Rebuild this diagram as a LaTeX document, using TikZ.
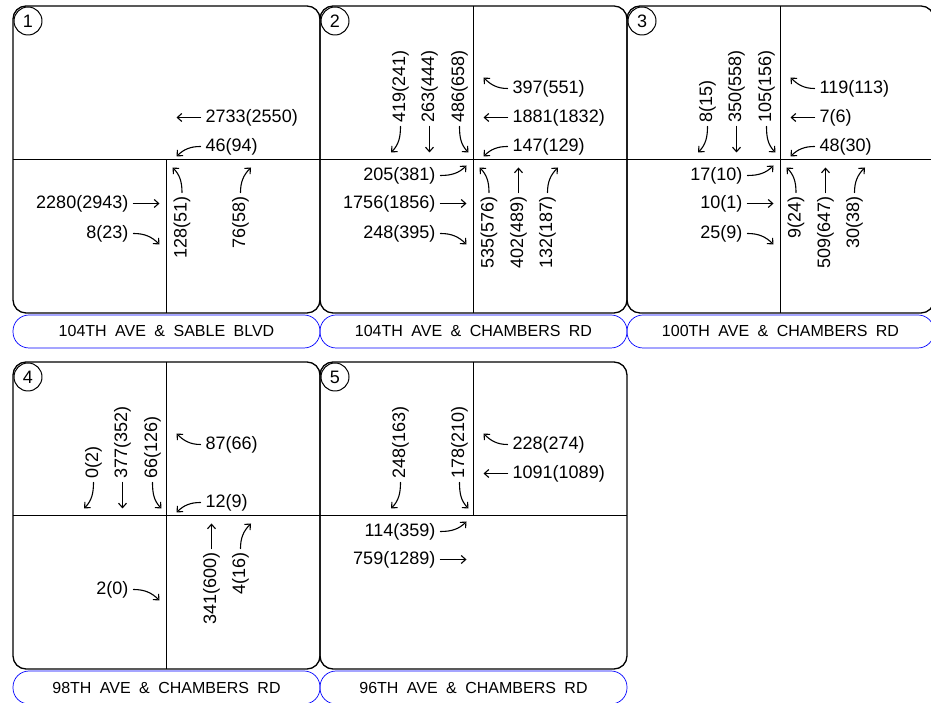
\documentclass[tikz,border=0pt]{standalone}
\usepackage{fontspec}
\setmainfont{Liberation Sans}
\newfontfamily\streetfont[WordSpace=1.9]{Liberation Sans}
\usetikzlibrary{arrows.meta,positioning}

\begin{document}
\begin{tikzpicture}[
    x=1pt, y=1pt,
    line cap=round,
    line join=round,
    panel/.style={draw, line width=1.3pt, rounded corners=13pt, minimum width=307pt, minimum height=307pt, outer sep=0pt, inner sep=0pt},
    street/.style={line width=1.3pt, line cap=butt},
    namebox/.style={draw=blue, line width=0.7pt, rounded corners=16pt, minimum width=307pt, minimum height=33pt, outer sep=0pt, inner sep=0pt, font=\streetfont\fontsize{16}{16}\selectfont},
    num/.style={circle, draw, fill=white, line width=1pt, minimum size=28pt, inner sep=0pt, font=\fontsize{18}{18}\selectfont},
    vol/.style={inner sep=0pt, font=\fontsize{18}{18}\selectfont},
    volup/.style={vol, rotate=90},
    mv/.style={-{Straight Barb[length=4.5pt,width=8pt]}, line width=1.1pt}
]

\useasboundingbox (0,0) rectangle (931,703);

% ------------------------
% Panels, street names and numbers
% ------------------------
\node[panel] (p1) at (166.5,543.5) {};
\node[panel, right=0pt of p1] (p2) {};
\node[panel, right=0pt of p2] (p3) {};
\node[panel, below=49pt of p1] (p4) {};
\node[panel, right=0pt of p4] (p5) {};

\node[namebox, below=2pt of p1] (n1) {104TH AVE \& SABLE BLVD};
\node[namebox, below=2pt of p2] (n2) {104TH AVE \& CHAMBERS RD};
\node[namebox, below=2pt of p3] (n3) {100TH AVE \& CHAMBERS RD};
\node[namebox, below=2pt of p4] (n4) {98TH AVE \& CHAMBERS RD};
\node[namebox, below=2pt of p5] (n5) {96TH AVE \& CHAMBERS RD};

% street lines
\draw[street] (p1.west) -- (p1.east);
\draw[street] (p1.center) -- (p1.south);
\draw[street] (p2.west) -- (p2.east);
\draw[street] (p2.north) -- (p2.south);
\draw[street] (p3.west) -- (p3.east);
\draw[street] (p3.north) -- (p3.south);
\draw[street] (p4.west) -- (p4.east);
\draw[street] (p4.north) -- (p4.south);
\draw[street] (p5.west) -- (p5.east);
\draw[street] (p5.north) -- (p5.center);

\node[num] (c1) at ([shift={(15,-15)}]p1.north west) {1};
\node[num] (c2) at ([shift={(15,-15)}]p2.north west) {2};
\node[num] (c3) at ([shift={(15,-15)}]p3.north west) {3};
\node[num] (c4) at ([shift={(15,-15)}]p4.north west) {4};
\node[num] (c5) at ([shift={(15,-15)}]p5.north west) {5};

% ------------------------
% 1: 104th Ave & Sable Blvd
% ------------------------
\node[vol, anchor=west] (v1wt) at ([shift={(39,42)}]p1.center) {2733(2550)};
\node[vol, anchor=west] (v1wl) at ([shift={(39,13)}]p1.center) {46(94)};
\node[vol, anchor=east] (v1et) at ([shift={(-38,-44)}]p1.center) {2280(2943)};
\node[vol, anchor=east] (v1er) at ([shift={(-38,-74)}]p1.center) {8(23)};
\node[volup, anchor=east] (v1nl) at ([shift={(15.5,-37)}]p1.center) {128(51)};
\node[volup, anchor=east] (v1nr) at ([shift={(74,-37)}]p1.center) {76(58)};

\draw[mv] ([xshift=-5pt]v1wt.west) -- ++(-24,0);
\draw[mv] ([xshift=-5pt]v1wl.west) to[out=180,in=45] ++(-24,-10);
\draw[mv] ([xshift=5pt]v1et.east) -- ++(26,0);
\draw[mv] ([xshift=5pt]v1er.east) to[out=0,in=135] ++(26,-11);
\draw[mv] ([yshift=4pt]v1nl.east) to[out=90,in=-45] ++(-9.5,25);
\draw[mv] ([yshift=4pt]v1nr.east) to[out=90,in=225] ++(10.5,25);

% ------------------------
% 2: 104th Ave & Chambers Rd
% ------------------------
\node[volup, anchor=west] (v2sr) at ([shift={(-73,37)}]p2.center) {419(241)};
\node[volup, anchor=west] (v2st) at ([shift={(-44,37)}]p2.center) {263(444)};
\node[volup, anchor=west] (v2sl) at ([shift={(-14,37)}]p2.center) {486(658)};
\node[vol, anchor=west] (v2wr) at ([shift={(39,71)}]p2.center) {397(551)};
\node[vol, anchor=west] (v2wt) at ([shift={(39,42)}]p2.center) {1881(1832)};
\node[vol, anchor=west] (v2wl) at ([shift={(39,13)}]p2.center) {147(129)};
\node[vol, anchor=east] (v2el) at ([shift={(-38,-16)}]p2.center) {205(381)};
\node[vol, anchor=east] (v2et) at ([shift={(-38,-44)}]p2.center) {1756(1856)};
\node[vol, anchor=east] (v2er) at ([shift={(-38,-74)}]p2.center) {248(395)};
\node[volup, anchor=east] (v2nl) at ([shift={(15.5,-37)}]p2.center) {535(576)};
\node[volup, anchor=east] (v2nt) at ([shift={(45,-37)}]p2.center) {402(489)};
\node[volup, anchor=east] (v2nr) at ([shift={(74,-37)}]p2.center) {132(187)};

\draw[mv] ([yshift=-4pt]v2sr.west) to[out=-90,in=45] ++(-9.5,-26);
\draw[mv] ([yshift=-4pt]v2st.west) -- ++(0,-26);
\draw[mv] ([yshift=-4pt]v2sl.west) to[out=-90,in=135] ++(9,-26);
\draw[mv] ([xshift=-5pt]v2wr.west) to[out=180,in=-45] ++(-24,11);
\draw[mv] ([xshift=-5pt]v2wt.west) -- ++(-24,0);
\draw[mv] ([xshift=-5pt]v2wl.west) to[out=180,in=45] ++(-24,-10);
\draw[mv] ([xshift=5pt]v2el.east) to[out=0,in=225] ++(26,10);
\draw[mv] ([xshift=5pt]v2et.east) -- ++(26,0);
\draw[mv] ([xshift=5pt]v2er.east) to[out=0,in=135] ++(26,-11);
\draw[mv] ([yshift=4pt]v2nl.east) to[out=90,in=-45] ++(-9.5,25);
\draw[mv] ([yshift=4pt]v2nt.east) -- ++(0,25);
\draw[mv] ([yshift=4pt]v2nr.east) to[out=90,in=225] ++(10.5,25);

% ------------------------
% 3: 100th Ave & Chambers Rd
% ------------------------
\node[volup, anchor=west] (v3sr) at ([shift={(-73,37)}]p3.center) {8(15)};
\node[volup, anchor=west] (v3st) at ([shift={(-44,37)}]p3.center) {350(558)};
\node[volup, anchor=west] (v3sl) at ([shift={(-14,37)}]p3.center) {105(156)};
\node[vol, anchor=west] (v3wr) at ([shift={(39,71)}]p3.center) {119(113)};
\node[vol, anchor=west] (v3wt) at ([shift={(39,42)}]p3.center) {7(6)};
\node[vol, anchor=west] (v3wl) at ([shift={(39,13)}]p3.center) {48(30)};
\node[vol, anchor=east] (v3el) at ([shift={(-38,-16)}]p3.center) {17(10)};
\node[vol, anchor=east] (v3et) at ([shift={(-38,-44)}]p3.center) {10(1)};
\node[vol, anchor=east] (v3er) at ([shift={(-38,-74)}]p3.center) {25(9)};
\node[volup, anchor=east] (v3nl) at ([shift={(15.5,-37)}]p3.center) {9(24)};
\node[volup, anchor=east] (v3nt) at ([shift={(45,-37)}]p3.center) {509(647)};
\node[volup, anchor=east] (v3nr) at ([shift={(74,-37)}]p3.center) {30(38)};

\draw[mv] ([yshift=-4pt]v3sr.west) to[out=-90,in=45] ++(-9.5,-26);
\draw[mv] ([yshift=-4pt]v3st.west) -- ++(0,-26);
\draw[mv] ([yshift=-4pt]v3sl.west) to[out=-90,in=135] ++(9,-26);
\draw[mv] ([xshift=-5pt]v3wr.west) to[out=180,in=-45] ++(-24,11);
\draw[mv] ([xshift=-5pt]v3wt.west) -- ++(-24,0);
\draw[mv] ([xshift=-5pt]v3wl.west) to[out=180,in=45] ++(-24,-10);
\draw[mv] ([xshift=5pt]v3el.east) to[out=0,in=225] ++(26,10);
\draw[mv] ([xshift=5pt]v3et.east) -- ++(26,0);
\draw[mv] ([xshift=5pt]v3er.east) to[out=0,in=135] ++(26,-11);
\draw[mv] ([yshift=4pt]v3nl.east) to[out=90,in=-45] ++(-9.5,25);
\draw[mv] ([yshift=4pt]v3nt.east) -- ++(0,25);
\draw[mv] ([yshift=4pt]v3nr.east) to[out=90,in=225] ++(10.5,25);

% ------------------------
% 4: 98th Ave & Chambers Rd
% ------------------------
\node[volup, anchor=west] (v4sr) at ([shift={(-73,37)}]p4.center) {0(2)};
\node[volup, anchor=west] (v4st) at ([shift={(-44,37)}]p4.center) {377(352)};
\node[volup, anchor=west] (v4sl) at ([shift={(-14,37)}]p4.center) {66(126)};
\node[vol, anchor=west] (v4wr) at ([shift={(39,71)}]p4.center) {87(66)};
\node[vol, anchor=west] (v4wl) at ([shift={(39,13)}]p4.center) {12(9)};
\node[vol, anchor=east] (v4er) at ([shift={(-38,-74)}]p4.center) {2(0)};
\node[volup, anchor=east] (v4nt) at ([shift={(45,-37)}]p4.center) {341(600)};
\node[volup, anchor=east] (v4nr) at ([shift={(74,-37)}]p4.center) {4(16)};

\draw[mv] ([yshift=-4pt]v4sr.west) to[out=-90,in=45] ++(-9.5,-26);
\draw[mv] ([yshift=-4pt]v4st.west) -- ++(0,-26);
\draw[mv] ([yshift=-4pt]v4sl.west) to[out=-90,in=135] ++(9,-26);
\draw[mv] ([xshift=-5pt]v4wr.west) to[out=180,in=-45] ++(-24,11);
\draw[mv] ([xshift=-5pt]v4wl.west) to[out=180,in=45] ++(-24,-10);
\draw[mv] ([xshift=5pt]v4er.east) to[out=0,in=135] ++(26,-11);
\draw[mv] ([yshift=4pt]v4nt.east) -- ++(0,25);
\draw[mv] ([yshift=4pt]v4nr.east) to[out=90,in=225] ++(10.5,25);

% ------------------------
% 5: 96th Ave & Chambers Rd
% ------------------------
\node[volup, anchor=west] (v5sr) at ([shift={(-73,37)}]p5.center) {248(163)};
\node[volup, anchor=west] (v5sl) at ([shift={(-14,37)}]p5.center) {178(210)};
\node[vol, anchor=west] (v5wr) at ([shift={(39,71)}]p5.center) {228(274)};
\node[vol, anchor=west] (v5wt) at ([shift={(39,42)}]p5.center) {1091(1089)};
\node[vol, anchor=east] (v5el) at ([shift={(-38,-16)}]p5.center) {114(359)};
\node[vol, anchor=east] (v5et) at ([shift={(-38,-44)}]p5.center) {759(1289)};

\draw[mv] ([yshift=-4pt]v5sr.west) to[out=-90,in=45] ++(-9.5,-26);
\draw[mv] ([yshift=-4pt]v5sl.west) to[out=-90,in=135] ++(9,-26);
\draw[mv] ([xshift=-5pt]v5wr.west) to[out=180,in=-45] ++(-24,11);
\draw[mv] ([xshift=-5pt]v5wt.west) -- ++(-24,0);
\draw[mv] ([xshift=5pt]v5el.east) to[out=0,in=225] ++(26,10);
\draw[mv] ([xshift=5pt]v5et.east) -- ++(26,0);

\end{tikzpicture}
\end{document}
